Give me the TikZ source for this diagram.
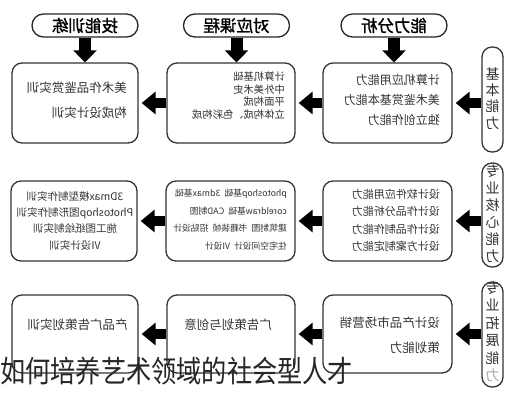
\documentclass[tikz,border=0pt]{standalone}
\usepackage{fontspec}
\setmainfont{Noto Sans CJK SC}
\newfontfamily\hdfont[FakeBold=1.5]{Noto Sans CJK SC}
\usetikzlibrary{arrows.meta}
\newcommand\mtxt[4]{\reflectbox{\fontsize{#1}{#2}\selectfont\begin{tabular}{@{}#3@{}}#4\end{tabular}}}
\tikzset{
  box/.style={draw=black!80, line width=1.3pt, rounded corners=10pt, minimum width=128pt, minimum height=80pt, inner sep=0pt},
  hdr/.style={draw=black!85, line width=1.3pt, rounded corners=11.5pt, minimum width=106pt, minimum height=23pt, inner sep=0pt},
  side/.style={draw=black!80, line width=1.3pt, rounded corners=10pt, minimum width=21pt, minimum height=105pt, inner sep=0pt},
  txt/.style={inner sep=0pt, text=black!80},
  blkh/.style={line width=10pt, -{Triangle[length=14pt,width=22pt]}, shorten >=3pt},
  blkv/.style={line width=12pt, -{Triangle[length=12pt,width=23pt]}},
}
\begin{document}
\begin{tikzpicture}[x=1pt,y=-1pt]
\useasboundingbox (0,0) rectangle (516,400);
\fill[white] (0,0) rectangle (516,400);
% headers
\node[hdr] (h1) at (85,25.5) {\reflectbox{\hdfont\fontsize{16.5}{16.5}\selectfont 技能训练}};
\node[hdr] (h2) at (236.5,25.5) {\reflectbox{\hdfont\fontsize{16.5}{16.5}\selectfont 对应课程}};
\node[hdr] (h3) at (394,25.5) {\reflectbox{\hdfont\fontsize{16.5}{16.5}\selectfont 能力分析}};
% row 1
\node[box, minimum width=126pt] (b11) at (75,103) {};
\node[box] (b12) at (231,103) {};
\node[box, minimum width=129pt] (b13) at (387.5,103) {};
\node[side] (s1) at (492.5,99.5) {};
% row 2
\node[box, minimum width=126pt] (b21) at (74,221) {};
\node[box, minimum width=129pt] (b22) at (230.5,221) {};
\node[box, minimum width=129pt] (b23) at (387.5,221) {};
\node[side, minimum height=104pt] (s2) at (492.5,215) {};
% row 3
\node[box, minimum width=126pt, minimum height=78pt] (b31) at (75,334) {};
\node[box, minimum height=78pt] (b32) at (231,334) {};
\node[box, minimum width=129pt, minimum height=78pt] (b33) at (387.5,334) {};
\node[side] (s3) at (492.5,334.5) {};
% texts row 1
\node[txt, anchor=east] (t11) at (127,100) {\mtxt{12.5}{25}{l}{美术作品鉴赏实训\\构成设计实训}};
\node[txt, anchor=east] (t12) at (285,97) {\mtxt{10.3}{12.7}{l}{计算机基础\\中外美术史\\平面构成\\立体构成、色彩构成}};
\node[txt, anchor=east] (t13) at (440,100) {\mtxt{12}{20}{l}{计算机应用能力\\美术鉴赏基本能力\\独立创作能力}};
\node[txt] (st1) at (492.5,100) {\mtxt{14}{15.3}{c}{基\\本\\能\\力}};
% texts row 2
\node[txt] (t21) at (75,221.5) {\mtxt{10.5}{16.3}{c}{3Dmax模型制作实训\\Photoshop图形制作实训\\施工图纸绘制实训\\VI设计实训}};
\node[txt, anchor=east] (t22) at (287,219.5) {\mtxt{8.8}{17.7}{l}{photoshop基础\ \ 3dmax基础\\coreldraw基础\ \ CAD制图\\建筑制图\ \ 书籍装帧\ \ 招贴设计\\住宅空间设计\ \ VI设计}};
\node[txt, anchor=east] (t23) at (440,221) {\mtxt{11}{17.3}{l}{设计软件应用能力\\设计作品分析能力\\设计作品制作能力\\设计方案制定能力}};
\node[txt] (st2) at (492.5,215.5) {\mtxt{14}{17}{c}{专\\业\\核\\心\\能\\力}};
% texts row 3
\node[txt] (t31) at (77.5,325) {\reflectbox{\fontsize{12.5}{12.5}\selectfont 产品广告策划实训}};
\node[txt] (t32) at (228,325) {\reflectbox{\fontsize{12.5}{12.5}\selectfont 广告策划与创意}};
\node[txt, anchor=east] (t33) at (440,334.5) {\mtxt{12.5}{25}{l}{设计产品市场营销\\策划能力}};
\node[txt] (st3) at (492.5,333.5) {\mtxt{14}{17.4}{c}{专\\业\\拓\\展\\能\\{\color{black!35}力}}};
% vertical arrows
\draw[blkv] (h1.south) -- (h1.south |- b11.north);
\draw[blkv] (h2.south) -- (h2.south |- b12.north);
\draw[blkv] (h3.south) -- (h3.south |- b13.north);
% horizontal arrows
\draw[blkh] (b13.east -| s1.west) -- (b13.east);
\draw[blkh] (b13.west) -- (b12.east);
\draw[blkh] (b12.west) -- (b11.east);
\draw[blkh] (b23.east -| s2.west) -- (b23.east);
\draw[blkh] (b23.west) -- (b22.east);
\draw[blkh] (b22.west) -- (b21.east);
\draw[blkh] (b33.east -| s3.west) -- (b33.east);
\draw[blkh] (b33.west) -- (b32.east);
\draw[blkh] (b32.west) -- (b31.east);
% caption overlay
\node[inner sep=0pt, anchor=base west, text=black!85] (wm) at (0,382) {\scalebox{0.84}[1]{\fontsize{30}{30}\selectfont 如何培养艺术领域的社会型人才}};
\end{tikzpicture}
\end{document}
